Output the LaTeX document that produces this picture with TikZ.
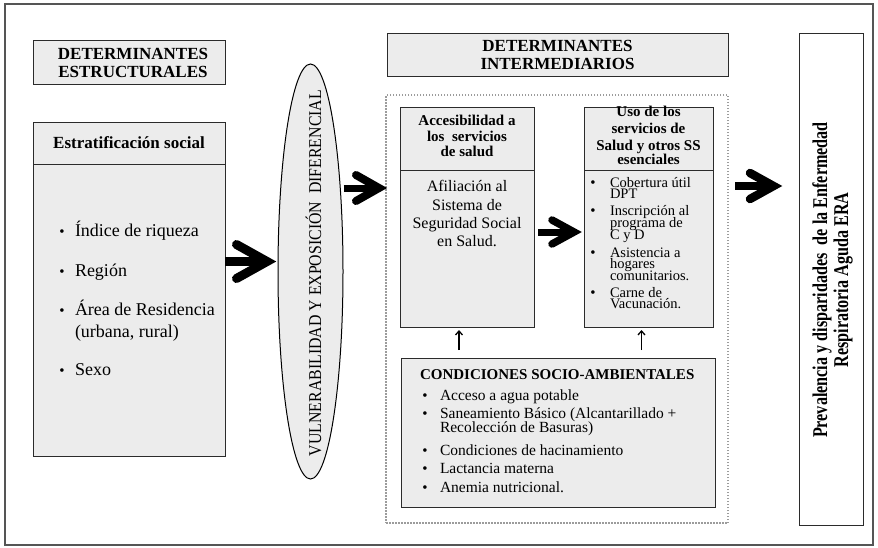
\documentclass[tikz,border=0pt]{standalone}
\usepackage{fontspec}
\setmainfont{Liberation Serif}
\newfontfamily\narrowserif[FakeStretch=0.77]{Liberation Serif}
\newfontfamily\ellserif[FakeStretch=0.88]{Liberation Serif}
\usetikzlibrary{calc,arrows.meta,shapes.geometric}
\definecolor{boxgray}{HTML}{ECECEC}
\definecolor{edgec}{HTML}{2B2B2B}
\definecolor{framec}{HTML}{555555}
\definecolor{dotc}{HTML}{9C9C9C}
\begin{document}
\begin{tikzpicture}[x=1pt,y=-1pt,
  box/.style={draw=edgec,fill=boxgray,line width=1pt,inner sep=0pt,outer sep=0pt,anchor=north west},
  txt/.style={inner sep=0pt,outer sep=0pt},
  bigtitle/.style={txt,anchor=base,font=\fontsize{17}{19}\selectfont\bfseries},
  headb/.style={txt,anchor=base,font=\fontsize{15}{15}\selectfont\bfseries},
  itemL/.style={txt,anchor=base west,font=\fontsize{18}{18}\selectfont},
  itemS/.style={txt,anchor=base west,font=\fontsize{14.5}{14.5}\selectfont},
  itemC/.style={txt,anchor=base west,font=\fontsize{15.5}{15.5}\selectfont},
  bul/.style={txt,anchor=base,font=\fontsize{15}{15}\selectfont},
  bigarm/.style={line width=#1,line cap=round,line join=miter,miter limit=10},
  uparr/.style={-{Straight Barb[length=4pt,width=7pt]},line width=1.3pt}
]
\useasboundingbox (0,0) rectangle (878,547);
\draw[framec,line width=1.4pt] (5,4) rectangle (873,545);

% structural determinants
\node[box,minimum width=192pt,minimum height=44pt] (estr) at (33,40) {};
\node[bigtitle] (estr1) at ($(estr.north)+(4,19)$) {DETERMINANTES};
\node[bigtitle] (estr2) at ($(estr.north)+(4,37)$) {ESTRUCTURALES};

\node[box,minimum width=192pt,minimum height=334pt] (strat) at (33,122) {};
\draw[edgec,line width=1pt] ($(strat.north west)+(0,42)$) -- ($(strat.north east)+(0,42)$);
\node[bigtitle] (strath) at ($(strat.north)+(0,26)$) {Estratificación social};
\foreach \yy/\tx [count=\i] in {236/{Índice de riqueza},276/{Región},315/{Área de Residencia},337/{(urbana, rural)},375/{Sexo}}
  \node[itemL] (si\i) at (75,\yy) {\tx};
\foreach \yy [count=\i] in {236,276,315,375}
  \node[bul] (sb\i) at (62,\yy) {\textbullet};

% ellipse
\node[draw=black,fill=boxgray,ellipse,line width=1pt,minimum width=65pt,minimum height=415pt,inner sep=0pt] (ell) at (310.5,271.5) {};
\node[txt,rotate=90,anchor=base,font=\ellserif\fontsize{18}{18}\selectfont] (ellt) at (321,273) {VULNERABILIDAD Y EXPOSICIÓN\ \ DIFERENCIAL};

% intermediate determinants
\node[box,minimum width=341pt,minimum height=43pt] (inter) at (387,33) {};
\node[bigtitle] (inter1) at ($(inter.north)+(0,18)$) {DETERMINANTES};
\node[bigtitle] (inter2) at ($(inter.north)+(0,36)$) {INTERMEDIARIOS};

\node[draw=dotc,line width=1.5pt,dash pattern=on 1.5pt off 1.5pt,minimum width=342pt,minimum height=428pt,anchor=north west,inner sep=0pt,outer sep=0pt] (dots) at (386,95) {};

% accesibilidad
\node[box,minimum width=134pt,minimum height=220pt] (acc) at (400,107) {};
\draw[edgec,line width=1pt] ($(acc.north west)+(0,63)$) -- ($(acc.north east)+(0,63)$);
\node[headb] (acch1) at ($(acc.north)+(0,18)$) {Accesibilidad a};
\node[headb] (acch2) at ($(acc.north)+(0,34)$) {los\ \ servicios};
\node[headb] (acch3) at ($(acc.north)+(0,49)$) {de salud};
\foreach \yy/\tx [count=\i] in {191.5/{Afiliación al},210/{Sistema de},228.5/{Seguridad Social},246.5/{en Salud.}}
  \node[txt,anchor=base,font=\fontsize{16}{16}\selectfont] (accb\i) at (467,\yy) {\tx};

% uso
\node[box,minimum width=129pt,minimum height=220pt] (uso) at (584,107) {};
\draw[edgec,line width=1pt] ($(uso.north west)+(0,63)$) -- ($(uso.north east)+(0,63)$);
\foreach \yy/\tx [count=\i] in {116.5/{Uso de los},133.5/{servicios de},150/{Salud y otros SS},164.5/{esenciales}}
  \node[headb] (usoh\i) at (648.5,\yy) {\tx};
\foreach \yy/\tx [count=\i] in {187/{Cobertura útil},198.5/{DPT},215/{Inscripción al},227/{programa de},239.5/{C y D},257/{Asistencia a},268.5/{hogares},280.5/{comunitarios.},297/{Carne de},308.5/{Vacunación.}}
  \node[itemS] (usoi\i) at (610,\yy) {\tx};
\foreach \yy [count=\i] in {187,215,257,297}
  \node[bul] (usob\i) at (593,\yy) {\textbullet};

% condiciones
\node[box,minimum width=314pt,minimum height=149pt] (cond) at (401,358) {};
\node[txt,anchor=base west,font=\fontsize{15}{15}\selectfont\bfseries] (condh) at (420,379) {CONDICIONES SOCIO-AMBIENTALES};
\foreach \yy/\tx [count=\i] in {400/{Acceso a agua potable},418/{Saneamiento Básico (Alcantarillado +},432/{Recolección de Basuras)},455/{Condiciones de hacinamiento},473/{Lactancia materna},492/{Anemia nutricional.}}
  \node[itemC] (condi\i) at (440,\yy) {\tx};
\foreach \yy [count=\i] in {400,418,455,473,492}
  \node[bul] (condb\i) at (425,\yy) {\textbullet};

% outcome
\node[box,fill=white,minimum width=64pt,minimum height=492pt] (out) at (799,33) {};
\node[txt,rotate=90,anchor=base,font=\narrowserif\bfseries\fontsize{21}{21}\selectfont] (out1) at (827,280) {Prevalencia y disparidades\ \ de la Enfermedad};
\node[txt,rotate=90,anchor=base,font=\narrowserif\bfseries\fontsize{21}{21}\selectfont] (out2) at (848,280) {Respiratoria Aguda ERA};

% big arrows
\coordinate (t1) at ($(ell.west)+(-1,-10)$);
\draw[line width=9pt] (strat.east |- t1) -- ($(t1)+(-9,0)$);
\draw[bigarm=9pt] ($(t1)+(-40,-17)$) -- ($(t1)+(-9.5,0)$) -- ($(t1)+(-40,17)$);

\coordinate (t2) at ($(dots.north west)+(1,93)$);
\draw[line width=7pt] (ell.east |- t2) -- ($(t2)+(-8,0)$);
\draw[bigarm=8pt] ($(t2)+(-31,-13)$) -- ($(t2)+(-8,0)$) -- ($(t2)+(-31,13)$);

\coordinate (t3) at ($(uso.west)+(-2,15)$);
\draw[line width=7pt,shorten <=4pt] (acc.east |- t3) -- ($(t3)+(-8,0)$);
\draw[bigarm=7.5pt] ($(t3)+(-30,-12)$) -- ($(t3)+(-8,0)$) -- ($(t3)+(-30,12)$);

\coordinate (t4) at ($(out.west)+(-17,-93)$);
\draw[line width=8pt,shorten <=7pt] (dots.east |- t4) -- ($(t4)+(-8.5,0)$);
\draw[bigarm=8.5pt] ($(t4)+(-32,-13)$) -- ($(t4)+(-8.5,0)$) -- ($(t4)+(-32,13)$);

% small up arrows
\coordinate (x1) at ($(acc.south)+(-8,0)$);
\coordinate (x2) at ($(uso.south)+(-7,0)$);
\draw[uparr,shorten <=8pt,shorten >=3pt] (cond.north -| x1) -- (x1);
\draw[uparr,shorten <=8pt,shorten >=3pt] (cond.north -| x2) -- (x2);
\end{tikzpicture}
\end{document}
